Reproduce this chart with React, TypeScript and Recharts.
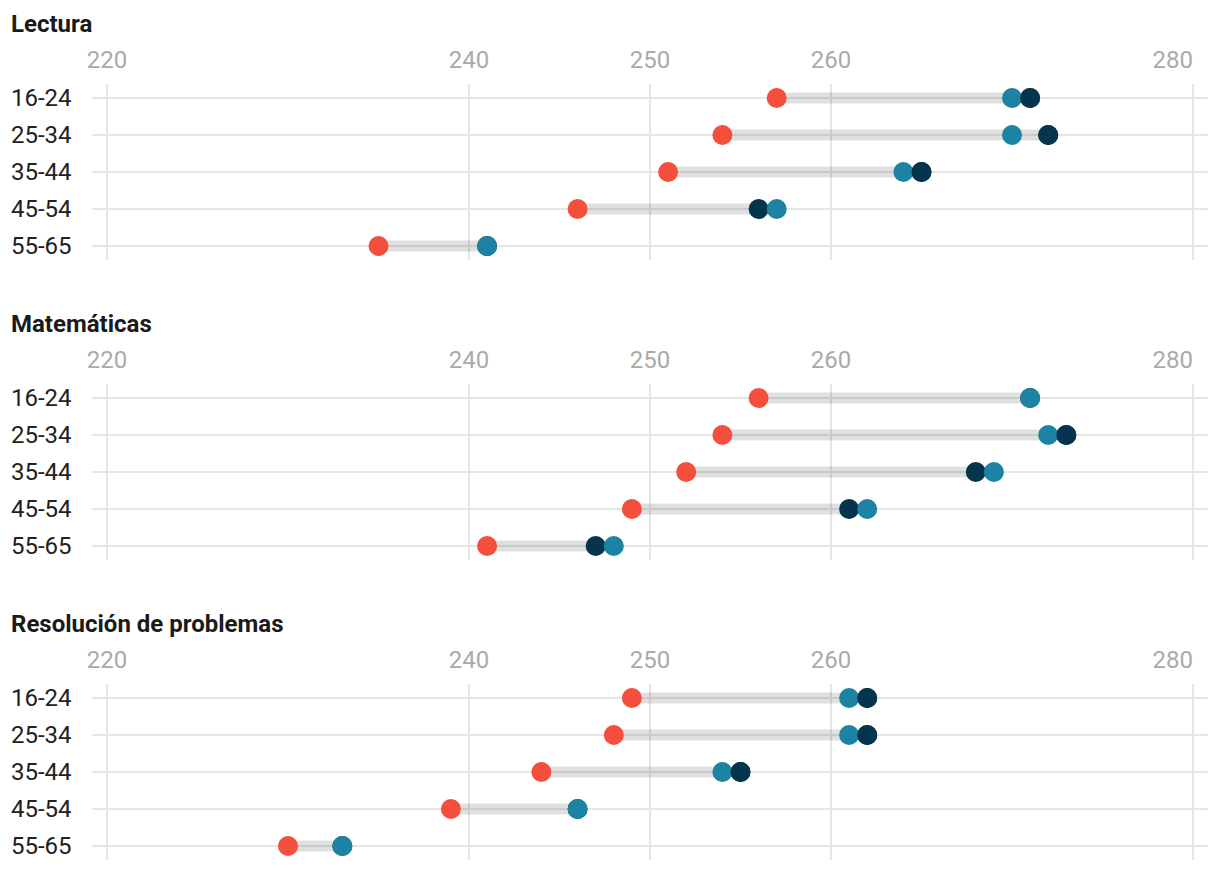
import { ScatterChart, Scatter, XAxis, YAxis, CartesianGrid } from "recharts";

const grupos = ["16-24", "25-34", "35-44", "45-54", "55-65"];
const ticksX = [220, 240, 250, 260, 280];

// puntuaciones, una por grupo de edad
const lecturaRojo = [257, 254, 251, 246, 235];
const lecturaAzul = [270, 270, 264, 257, 241];
const lecturaOscuro = [271, 272, 265, 256, 241];

const mateRojo = [256, 254, 252, 249, 241];
const mateAzul = [271, 272, 269, 262, 248];
const mateOscuro = [271, 273, 268, 261, 247];

const resolRojo = [249, 248, 244, 239, 230];
const resolAzul = [261, 261, 254, 246, 233];
const resolOscuro = [262, 262, 255, 246, 233];

const paneles = [
  { titulo: "Lectura", rojo: lecturaRojo, azul: lecturaAzul, oscuro: lecturaOscuro },
  { titulo: "Matemáticas", rojo: mateRojo, azul: mateAzul, oscuro: mateOscuro },
  { titulo: "Resolución de problemas", rojo: resolRojo, azul: resolAzul, oscuro: resolOscuro },
];

const ROJO = "#f44e3d";
const AZUL = "#1d83a2";
const OSCURO = "#05344e";
const FUENTE = "Roboto, sans-serif";

const punto = (color: string) => (props: any) =>
  props.cx == null ? <g /> : <circle cx={props.cx} cy={props.cy} r={10} fill={color} />;

const GrupoTick = (props: any) => (
  <text x={3} y={props.y} dy={8} textAnchor="start" fontSize={24} fontFamily={FUENTE} fill="#222">
    {grupos[props.payload.value]}
  </text>
);

// la última etiqueta se alinea a la derecha para no salirse
const ValorTick = (props: any) => {
  const ultimo = props.payload.value === ticksX[ticksX.length - 1];
  return (
    <text
      x={props.x}
      y={props.y}
      textAnchor={ultimo ? "end" : "middle"}
      fontSize={24}
      fontFamily={FUENTE}
      fill="#aaa"
    >
      {props.payload.value}
    </text>
  );
};

const Panel = ({ titulo, rojo, azul, oscuro }: { titulo: string; rojo: number[]; azul: number[]; oscuro: number[] }) => {
  const filas = (valores: number[]) => valores.map((v, i) => ({ x: v, y: i }));
  // el punto más a la derecha queda encima
  const oscuroEncima = filas(oscuro).filter((d, i) => oscuro[i] > azul[i]);

  return (
    <div style={{ position: "relative", height: 300 }}>
      <div
        style={{
          position: "absolute",
          top: 3,
          left: 3,
          fontFamily: FUENTE,
          fontWeight: 700,
          fontSize: 24,
          lineHeight: "26px",
          color: "#1a1a1a",
        }}
      >
        {titulo}
      </div>
      <div style={{ position: "absolute", top: 36, left: 0 }}>
        <ScatterChart width={1204} height={256} margin={{ top: 0, right: 4, bottom: 40, left: 0 }}>
          <CartesianGrid stroke="#e6e6e6" strokeWidth={2} syncWithTicks />
          <XAxis
            type="number"
            dataKey="x"
            orientation="top"
            domain={[220, 280]}
            ticks={ticksX}
            interval={0}
            height={40}
            padding={{ left: 15, right: 15 }}
            axisLine={false}
            tickLine={false}
            tickSize={0}
            tickMargin={16}
            tick={(p: any) => <ValorTick {...p} />}
          />
          <YAxis
            type="number"
            dataKey="y"
            domain={[0, 4]}
            ticks={[0, 1, 2, 3, 4]}
            interval={0}
            reversed
            width={84}
            padding={{ top: 14, bottom: 14 }}
            axisLine={false}
            tickLine={false}
            tick={(p: any) => <GrupoTick {...p} />}
          />
          {grupos.map((g, i) => (
            <Scatter
              key={g}
              data={[
                { x: rojo[i], y: i },
                { x: Math.max(azul[i], oscuro[i]), y: i },
              ]}
              fill="none"
              line={{ stroke: "rgba(0,0,0,0.12)", strokeWidth: 11 }}
              shape={() => <g />}
              isAnimationActive={false}
            />
          ))}
          <Scatter data={filas(rojo)} shape={punto(ROJO)} isAnimationActive={false} />
          <Scatter data={filas(oscuro)} shape={punto(OSCURO)} isAnimationActive={false} />
          <Scatter data={filas(azul)} shape={punto(AZUL)} isAnimationActive={false} />
          <Scatter data={oscuroEncima} shape={punto(OSCURO)} isAnimationActive={false} />
        </ScatterChart>
      </div>
    </div>
  );
};

export default function App() {
  return (
    <div style={{ width: 1204, height: 854, overflow: "hidden" }}>
      {paneles.map((p) => (
        <Panel key={p.titulo} {...p} />
      ))}
    </div>
  );
}
